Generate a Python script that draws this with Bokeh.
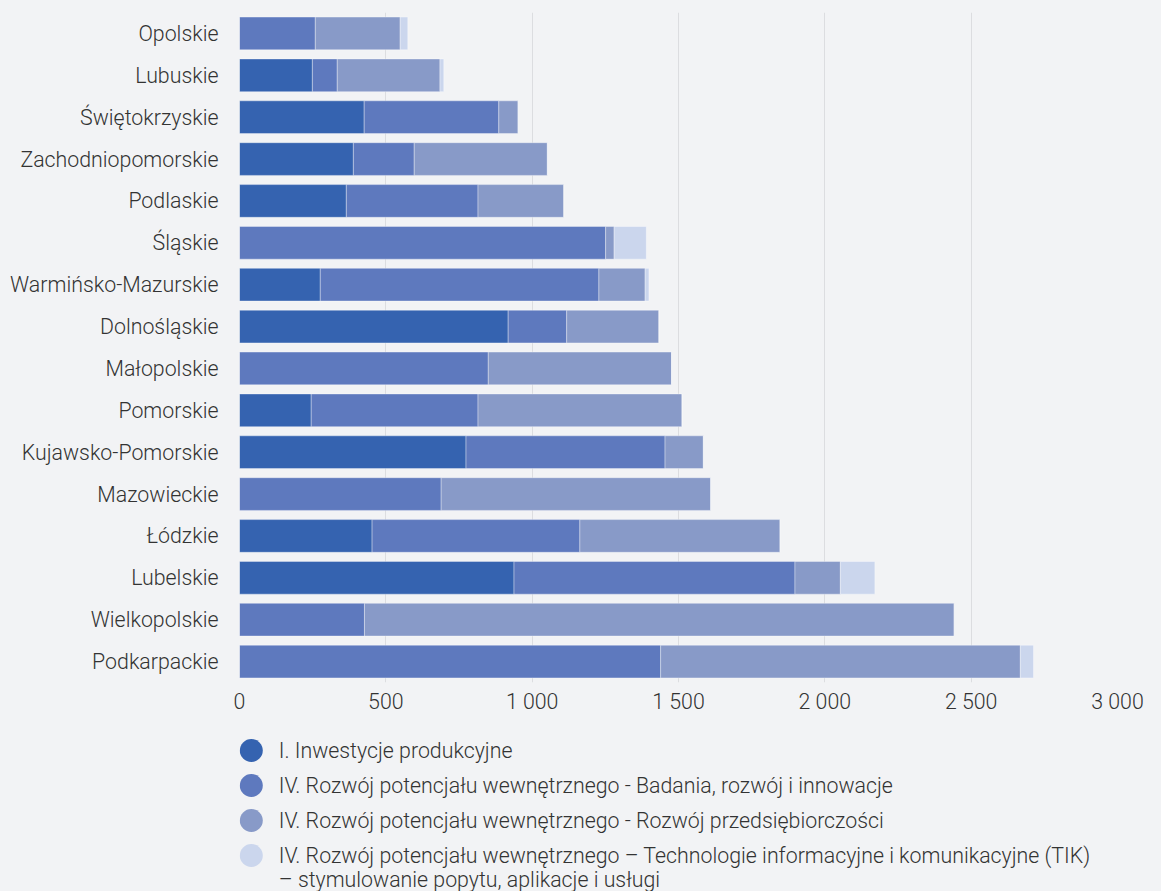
from bokeh.plotting import figure
from bokeh.models import ColumnDataSource, FactorRange, Range1d, FixedTicker
from bokeh.layouts import column
from bokeh.core.properties import value
from bokeh.embed import file_html
from bokeh.resources import INLINE

# ---------------- data ----------------
regions = ["Opolskie", "Lubuskie", "Świętokrzyskie", "Zachodniopomorskie",
           "Podlaskie", "Śląskie", "Warmińsko-Mazurskie", "Dolnośląskie",
           "Małopolskie", "Pomorskie", "Kujawsko-Pomorskie", "Mazowieckie",
           "Łódzkie", "Lubelskie", "Wielkopolskie", "Podkarpackie"]

inwestycje = [0, 249, 426, 389, 365, 0, 276, 918, 0, 245, 774, 0, 453, 938, 0, 0]
badania = [259, 85, 460, 208, 450, 1251, 952, 200, 850, 570, 680, 689, 710, 960, 427, 1439]
przedsiebiorczosc = [290, 351, 66, 455, 293, 29, 158, 315, 626, 697, 131, 921, 684, 155, 2015, 1229]
tik = [26, 13, 0, 0, 0, 110, 13, 0, 0, 0, 0, 0, 0, 118, 0, 45]

series_names = [
    "I. Inwestycje produkcyjne",
    "IV. Rozwój potencjału wewnętrznego - Badania, rozwój i innowacje",
    "IV. Rozwój potencjału wewnętrznego - Rozwój przedsiębiorczości",
    "IV. Rozwój potencjału wewnętrznego – Technologie informacyjne i komunikacyjne (TIK)\n– stymulowanie popytu, aplikacje i usługi",
]
colors = ["#3563B0", "#5E79BE", "#889AC8", "#CBD6ED"]

x_ticks = [0, 500, 1000, 1500, 2000, 2500, 3000]
x_tick_labels = ["0", "500", "1 000", "1 500", "2 000", "2 500", "3 000"]

# ---------------- style ----------------
BG = "#F2F3F5"
FONT = "Roboto Light"
TXT = "#333333"
FS = "21.33px"
LEFT, FRAME_W, RIGHT = 239, 878, 44

p = figure(y_range=FactorRange(factors=list(reversed(regions))),
           x_range=Range1d(0, 3000),
           frame_width=FRAME_W, frame_height=670,
           min_border_left=LEFT, min_border_top=12,
           min_border_right=RIGHT, min_border_bottom=36,
           output_backend="svg", toolbar_location=None,
           background_fill_color=BG, border_fill_color=BG,
           outline_line_color=None)

keys = ["s0", "s1", "s2", "s3"]
source = ColumnDataSource(dict(region=regions, s0=inwestycje, s1=badania,
                               s2=przedsiebiorczosc, s3=tik))
p.hbar_stack(keys, y="region", height=0.78, color=colors,
             line_color="white", line_alpha=0.35, line_width=1, source=source)

p.xaxis.ticker = FixedTicker(ticks=x_ticks)
p.xaxis.major_label_overrides = dict(zip(x_ticks, x_tick_labels))
for ax in (p.xaxis, p.yaxis):
    ax.axis_line_color = None
    ax.major_tick_line_color = None
    ax.minor_tick_line_color = None
    ax.major_label_text_font = FONT
    ax.major_label_text_font_size = FS
    ax.major_label_text_color = TXT
p.xaxis.major_label_standoff = 0
p.yaxis.major_label_standoff = 15

p.xgrid.ticker = FixedTicker(ticks=x_ticks)
p.xgrid.grid_line_color = "#DCDDE0"
p.xgrid.grid_line_width = 1
p.ygrid.grid_line_color = None

# ---------------- legend (separate panel, frame aligned with chart) ----------------
H = 173
leg = figure(frame_width=FRAME_W, frame_height=H,
             min_border_left=LEFT, min_border_right=RIGHT,
             min_border_top=0, min_border_bottom=0,
             x_range=Range1d(0, FRAME_W), y_range=Range1d(H, 0),
             x_axis_type=None, y_axis_type=None,
             output_backend="svg", toolbar_location=None,
             background_fill_color=BG, border_fill_color=BG,
             outline_line_color=None)
leg.grid.visible = False

row0, row_step, line_h = 32, 35, 24
cx, tx = 11.8, 39.3
cy = [row0 + row_step * i for i in range(len(series_names))]
leg.scatter(x=[cx] * len(series_names), y=cy, size=23, color=colors,
            line_color=None)

lx, ly, lt = [], [], []
for i, name in enumerate(series_names):
    for k, line in enumerate(name.split("\n")):
        lx.append(tx)
        ly.append(cy[i] + k * line_h)
        lt.append(line)
leg.text(x=lx, y=ly, text=lt, text_font=value(FONT), text_font_size=FS,
         text_color=TXT, text_baseline="middle", text_align="left")

layout = column(p, leg, spacing=0, styles={"background-color": BG})
open("out.html", "w").write(file_html(layout, INLINE))
